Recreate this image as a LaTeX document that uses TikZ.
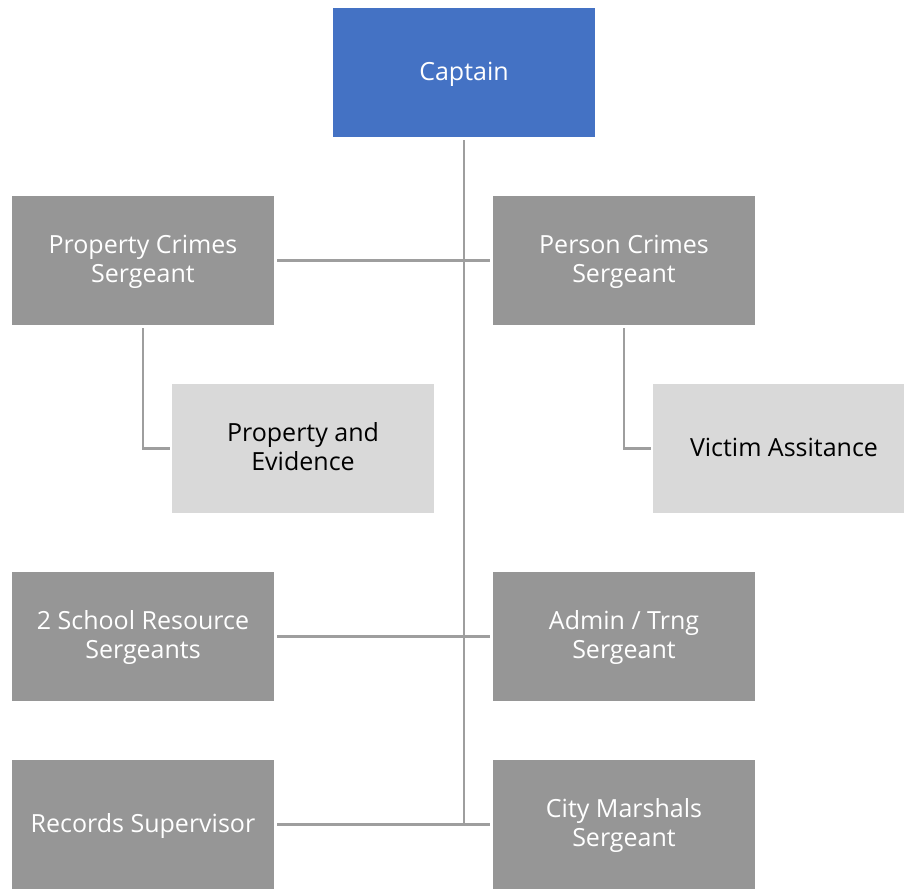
\documentclass[tikz,border=0pt]{standalone}
\usepackage{fontspec}
\setmainfont{Open Sans}
\definecolor{capblue}{HTML}{4472C4}
\definecolor{sgtgray}{HTML}{969696}
\definecolor{unitgray}{HTML}{D9D9D9}
\definecolor{linkgray}{HTML}{9E9E9E}
% centred lines of box text, drawn slightly low inside the box
\newcommand\boxlines[1]{\raisebox{-2pt}[\height][\depth]{\begin{tabular}{@{}c@{}}#1\end{tabular}}}
\begin{document}
\begin{tikzpicture}[x=1pt,y=-1pt,
  box/.style={rectangle, minimum width=262pt, minimum height=129pt, inner sep=0pt,
    font=\fontsize{25}{29}\selectfont},
  head/.style={box, fill=capblue, text=white},
  sgt/.style={box, fill=sgtgray, text=white},
  unit/.style={box, fill=unitgray, text=black},
  link/.style={draw=linkgray, line width=2.6pt}]
\useasboundingbox (0,0) rectangle (904,888);
\clip (0,0) rectangle (904,888);

% boxes
\node[head] (cap)  at (464,72.5)  {\boxlines{Captain}};
\node[sgt]  (prop) at (143,260.5) {\boxlines{Property Crimes\\Sergeant}};
\node[sgt]  (pers) at (624,260.5) {\boxlines{Person Crimes\\Sergeant}};
\node[unit] (pev)  at (303,448.5) {\boxlines{Property and\\Evidence}};
\node[unit] (vic)  at (784,448.5) {\boxlines{Victim Assitance}};
\node[sgt]  (sro)  at (143,636.5) {\boxlines{2 School Resource\\Sergeants}};
\node[sgt]  (adm)  at (624,636.5) {\boxlines{Admin / Trng\\Sergeant}};
\node[sgt]  (rec)  at (143,824.5) {\boxlines{Records Supervisor}};
\node[sgt]  (mar)  at (624,824.5) {\boxlines{City Marshals\\Sergeant}};

% trunk from the captain down to the last row
\coordinate (trunkend) at (464,825);
\draw[link, shorten <=3pt] (cap.south -| trunkend) -- (trunkend);

% row links
\draw[link, shorten <=3pt, shorten >=3pt] (prop.east) -- (pers.west);
\draw[link, shorten <=3pt, shorten >=3pt] (sro.east) -- (adm.west);
\draw[link, shorten <=3pt, shorten >=3pt] (rec.east) -- (mar.west);

% units under the sergeants
\draw[link, shorten <=3pt, shorten >=2pt] (prop.south) |- (pev.west);
\draw[link, shorten <=3pt, shorten >=2pt] (pers.south) |- (vic.west);
\end{tikzpicture}
\end{document}
